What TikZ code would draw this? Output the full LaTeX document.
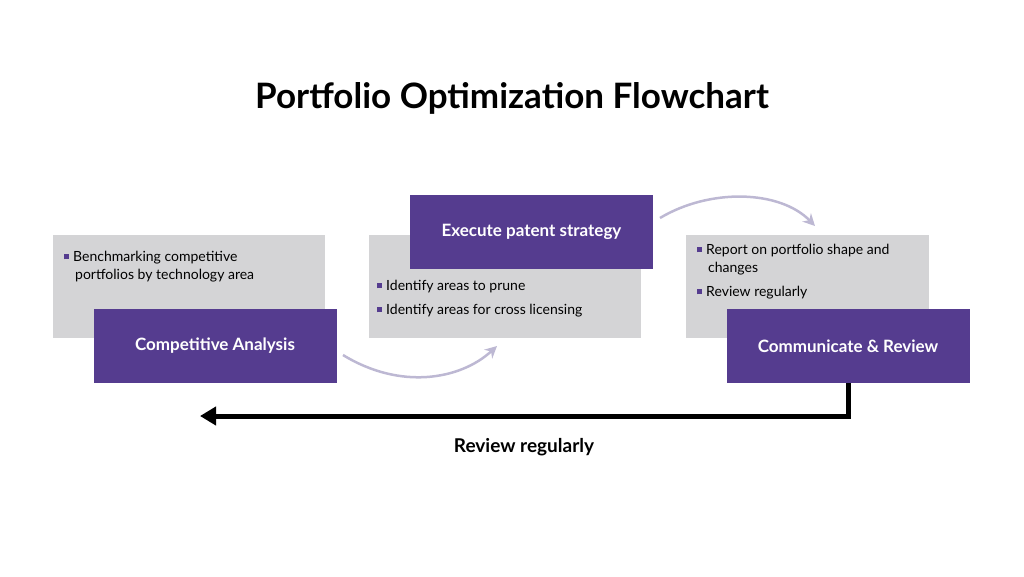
\documentclass[tikz,border=0pt]{standalone}
\usepackage{fontspec}
\setmainfont{Lato}
\usetikzlibrary{arrows.meta}
\definecolor{pur}{HTML}{553C8F}
\definecolor{gry}{HTML}{D4D4D6}
\definecolor{lpur}{HTML}{BDB8D3}
\begin{document}
\begin{tikzpicture}[x=1pt,y=-1pt,
  grey/.style={fill=gry,draw=none,anchor=north west,inner sep=0pt},
  purp/.style={fill=pur,draw=none,text=white,font=\bfseries\fontsize{17}{20}\selectfont,inner sep=0pt,minimum width=243pt,minimum height=74pt},
  btxt/.style={anchor=north west,align=left,font=\fontsize{14}{18}\selectfont,inner sep=0pt},
  curv/.style={lpur,line width=2.5pt,-{Stealth[length=12pt,width=12pt]}}]
\useasboundingbox (0,0) rectangle (1024,576);
\newcommand{\bul}{\textcolor{pur}{\rule[0.15em]{5pt}{5pt}}\hspace{4pt}}
\node[font=\bfseries\fontsize{35}{40}\selectfont] (title) at (512,98) {Portfolio Optimization Flowchart};
% box 1
\node[grey,minimum width=272pt,minimum height=103pt] (g1) at (53,235) {};
\node[btxt] (t1) at (64,251) {\bul Benchmarking competitive\\\hspace{11pt}portfolios by technology area};
\node[purp] (p1) at (215,346) {Competitive Analysis};
% box 2
\node[grey,minimum width=272pt,minimum height=103pt] (g2) at (369,235) {};
\node[purp] (p2) at (531.5,231.5) {Execute patent strategy};
\node[btxt] (t2) at (377,280) {\bul Identify areas to prune\\[6pt]\bul Identify areas for cross licensing};
% box 3
\node[grey,minimum width=243pt,minimum height=103pt] (g3) at (686,235) {};
\node[btxt] (t3) at (697,244) {\bul Report on portfolio shape and\\\hspace{11pt}changes\\[6pt]\bul Review regularly};
\node[purp] (p3) at (848,346) {Communicate \& Review};
% curves
\coordinate (c1s) at (343,355); \coordinate (c1e) at (497,346);
\coordinate (c2s) at (660,218); \coordinate (c2e) at (815,226);
\draw[curv] (c1s) .. controls (400,390) and (460,380) .. (c1e);
\draw[curv] (c2s) .. controls (710,188) and (780,190) .. (c2e);
% return arrow
\coordinate (ra) at (200,416);
\draw[line width=5pt,-{Triangle[length=16pt,width=18pt]}] (p3.south) -- (848,416) -- (ra);
\node[font=\bfseries\fontsize{19}{22}\selectfont] (rr) at (524,447) {Review regularly};
\end{tikzpicture}
\end{document}
